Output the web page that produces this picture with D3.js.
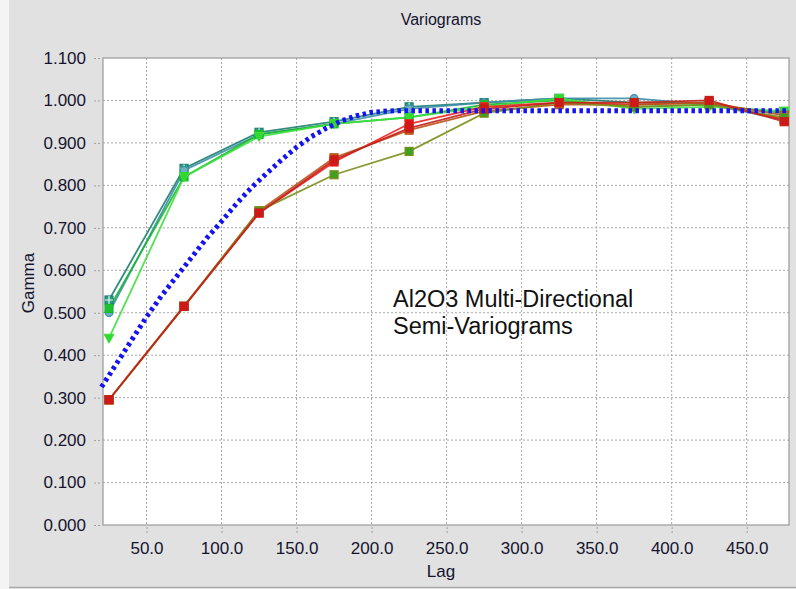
<!DOCTYPE html>
<html><head><meta charset="utf-8">
<script src="https://cdn.jsdelivr.net/npm/d3@7"></script>
<style>
body{margin:0;background:#f4f4f4;}
text{font-family:"Liberation Sans",Arial,sans-serif;}
</style></head>
<body>
<svg id="chart" width="796" height="589"></svg>
<script>
const lags = [25, 75, 125, 175, 225, 275, 325, 375, 425, 475];
const xTicks = [50, 100, 150, 200, 250, 300, 350, 400, 450];
const yTicks = [0, 0.1, 0.2, 0.3, 0.4, 0.5, 0.6, 0.7, 0.8, 0.9, 1.0, 1.1];

const seriesNames = ["dirA", "dirB", "dirC", "dirD", "dirE", "dirF", "dirG", "dirH"];
const seriesColors = ["#1e7f72", "#3c8fa8", "#18b830", "#3ee03e", "#ee2222", "#b8541a", "#7e8e1c", "#c42018"];
const seriesFills = ["#2aa080", "#70b0c0", "#20c030", "#30d830", "#dd1010", "#c06020", "#40a020", "#d01818"];
const seriesMarkers = ["squarePlus", "circle", "square", "triangleDown", "square", "square", "square", "square"];
const dirA = [0.530, 0.840, 0.925, 0.950, 0.985, 0.995, 1.005, 0.995, 0.995, 0.955];
const dirB = [0.500, 0.835, 0.920, 0.945, 0.980, 0.995, 1.005, 1.005, 0.990, 0.955];
const dirC = [0.510, 0.820, 0.920, 0.945, 0.960, 0.990, 1.000, 0.985, 0.990, 0.970];
const dirD = [0.440, 0.820, 0.915, 0.945, 0.960, 0.985, 1.005, 0.980, 0.985, 0.975];
const dirE = [0.295, 0.515, 0.735, 0.855, 0.945, 0.985, 0.995, 0.990, 0.995, 0.955];
const dirF = [0.295, 0.515, 0.740, 0.865, 0.930, 0.975, 0.990, 0.990, 0.995, 0.965];
const dirG = [0.295, 0.515, 0.740, 0.825, 0.880, 0.970, 0.995, 0.985, 0.990, 0.960];
const dirH = [0.295, 0.515, 0.735, 0.860, 0.935, 0.980, 0.995, 0.995, 1.000, 0.950];
const seriesValues = [dirA, dirB, dirC, dirD, dirE, dirF, dirG, dirH];

const modelLags = [20, 30, 40, 50, 60, 70, 80, 90, 100, 110, 120, 130, 140, 150, 160, 170, 180, 190, 200, 210, 220, 480];
const modelGamma = [0.325, 0.380, 0.435, 0.490, 0.540, 0.585, 0.630, 0.675, 0.715, 0.757, 0.795, 0.828, 0.860, 0.890, 0.915, 0.935, 0.952, 0.964, 0.972, 0.975, 0.976, 0.976];

const titleText = "Variograms";
const xLabel = "Lag";
const yLabel = "Gamma";
const noteLines = ["Al2O3 Multi-Directional", "Semi-Variograms"];

const svg = d3.select("#chart");
const W = 796, H = 589;
const plot = {left: 103, right: 789, top: 58, bottom: 525};

// panel background
svg.append("rect").attr("x", 9).attr("y", 0).attr("width", W - 9).attr("height", 587).attr("fill", "#e1e1e1");
svg.append("line").attr("x1", 9).attr("x2", W).attr("y1", 587.5).attr("y2", 587.5).attr("stroke", "#a8a8a8").attr("stroke-width", 1.5);

const x = d3.scaleLinear().domain([21, 478.2]).range([plot.left, plot.right]);
const y = d3.scaleLinear().domain([0, 1.1]).range([plot.bottom, plot.top]);

svg.append("rect").attr("x", plot.left).attr("y", plot.top)
  .attr("width", plot.right - plot.left).attr("height", plot.bottom - plot.top)
  .attr("fill", "#ffffff");

// grid
const grid = svg.append("g");
grid.selectAll(".vg").data(xTicks).enter().append("line")
  .attr("x1", d => x(d)).attr("x2", d => x(d)).attr("y1", plot.top).attr("y2", plot.bottom)
  .attr("stroke", "#a8a8a8").attr("stroke-dasharray", "2,2");
grid.selectAll(".hg").data(yTicks.filter(d => d > 0 && d < 1.1)).enter().append("line")
  .attr("x1", plot.left).attr("x2", plot.right).attr("y1", d => y(d)).attr("y2", d => y(d))
  .attr("stroke", "#a8a8a8").attr("stroke-dasharray", "2,2");

const labelStyle = sel => sel.attr("font-size", 17).attr("fill", "#14142e")
  .attr("font-family", "Liberation Sans, Arial, sans-serif");

// axes
const xAxis = d3.axisBottom(x).tickValues(xTicks).tickFormat(d3.format(".1f")).tickSize(8).tickPadding(7);
const gx = svg.append("g").attr("transform", `translate(0,${plot.bottom + 2})`).call(xAxis);
gx.select(".domain").remove();
gx.selectAll(".tick line").attr("stroke", "#a0a0a0").attr("stroke-dasharray", "2,2");
gx.selectAll(".tick text").call(labelStyle);

const yAxis = d3.axisLeft(y).tickValues(yTicks).tickFormat(d3.format(".3f")).tickSize(6).tickPadding(8);
const gy = svg.append("g").attr("transform", `translate(${plot.left - 3},0)`).call(yAxis);
gy.select(".domain").remove();
gy.selectAll(".tick line").attr("stroke", "#a0a0a0").attr("stroke-dasharray", "2,2");
gy.selectAll(".tick text").call(labelStyle);

// border
svg.append("rect").attr("x", plot.left).attr("y", plot.top)
  .attr("width", plot.right - plot.left).attr("height", plot.bottom - plot.top)
  .attr("fill", "none").attr("stroke", "#9a9a9a").attr("stroke-width", 1.2);

svg.append("clipPath").attr("id", "clip").append("rect")
  .attr("x", plot.left - 6).attr("y", plot.top).attr("width", plot.right - plot.left + 6).attr("height", plot.bottom - plot.top);

const line = d3.line().x((d, i) => x(lags[i])).y(d => y(d));
const marks = svg.append("g");

seriesValues.forEach((vals, si) => {
  marks.append("path").datum(vals).attr("d", line)
    .attr("fill", "none").attr("stroke", seriesColors[si]).attr("stroke-width", 1.8).attr("opacity", 0.9);
});

// model line
const mline = d3.line().x((d, i) => x(modelLags[i])).y(d => y(d));
svg.append("path").datum(modelGamma).attr("d", mline).attr("clip-path", "url(#clip)")
  .attr("fill", "none").attr("stroke", "#1414f0").attr("stroke-width", 5).attr("stroke-dasharray", "3.5,3.5");

seriesValues.forEach((vals, si) => {
  const g = marks.append("g");
  vals.forEach((v, i) => {
    const cx = x(lags[i]), cy = y(v);
    const type = seriesMarkers[si];
    if (type === "circle") {
      g.append("circle").attr("cx", cx).attr("cy", cy).attr("r", 3.8)
        .attr("fill", seriesFills[si]).attr("stroke", seriesColors[si]).attr("stroke-width", 1.2);
    } else if (type === "triangleDown") {
      g.append("path").attr("d", `M${cx - 5},${cy - 4}L${cx + 5},${cy - 4}L${cx},${cy + 5}Z`)
        .attr("fill", seriesFills[si]).attr("stroke", seriesColors[si]);
    } else {
      g.append("rect").attr("x", cx - 4).attr("y", cy - 4).attr("width", 8).attr("height", 8)
        .attr("fill", seriesFills[si]).attr("stroke", seriesColors[si]).attr("stroke-width", 1.2);
      if (type === "squarePlus") {
        g.append("path").attr("d", `M${cx - 4},${cy}L${cx + 4},${cy}M${cx},${cy - 4}L${cx},${cy + 4}`)
          .attr("stroke", "#e8f8f0").attr("stroke-width", 1.2);
      }
    }
  });
});

// texts
svg.append("text").attr("x", 441).attr("y", 25).attr("text-anchor", "middle")
  .attr("font-size", 16).attr("fill", "#14142e").text(titleText);
svg.append("text").attr("x", 441).attr("y", 577).attr("text-anchor", "middle")
  .attr("font-size", 17).attr("fill", "#14142e").text(xLabel);
svg.append("text").attr("transform", "translate(34,283) rotate(-90)").attr("text-anchor", "middle")
  .attr("font-size", 17).attr("fill", "#14142e").text(yLabel);
svg.append("text").selectAll("tspan").data(noteLines).enter().append("tspan")
  .attr("x", 393).attr("y", (d, i) => 307 + i * 27)
  .attr("font-size", 23.5).attr("fill", "#111").text(d => d);
</script>
</body></html>
